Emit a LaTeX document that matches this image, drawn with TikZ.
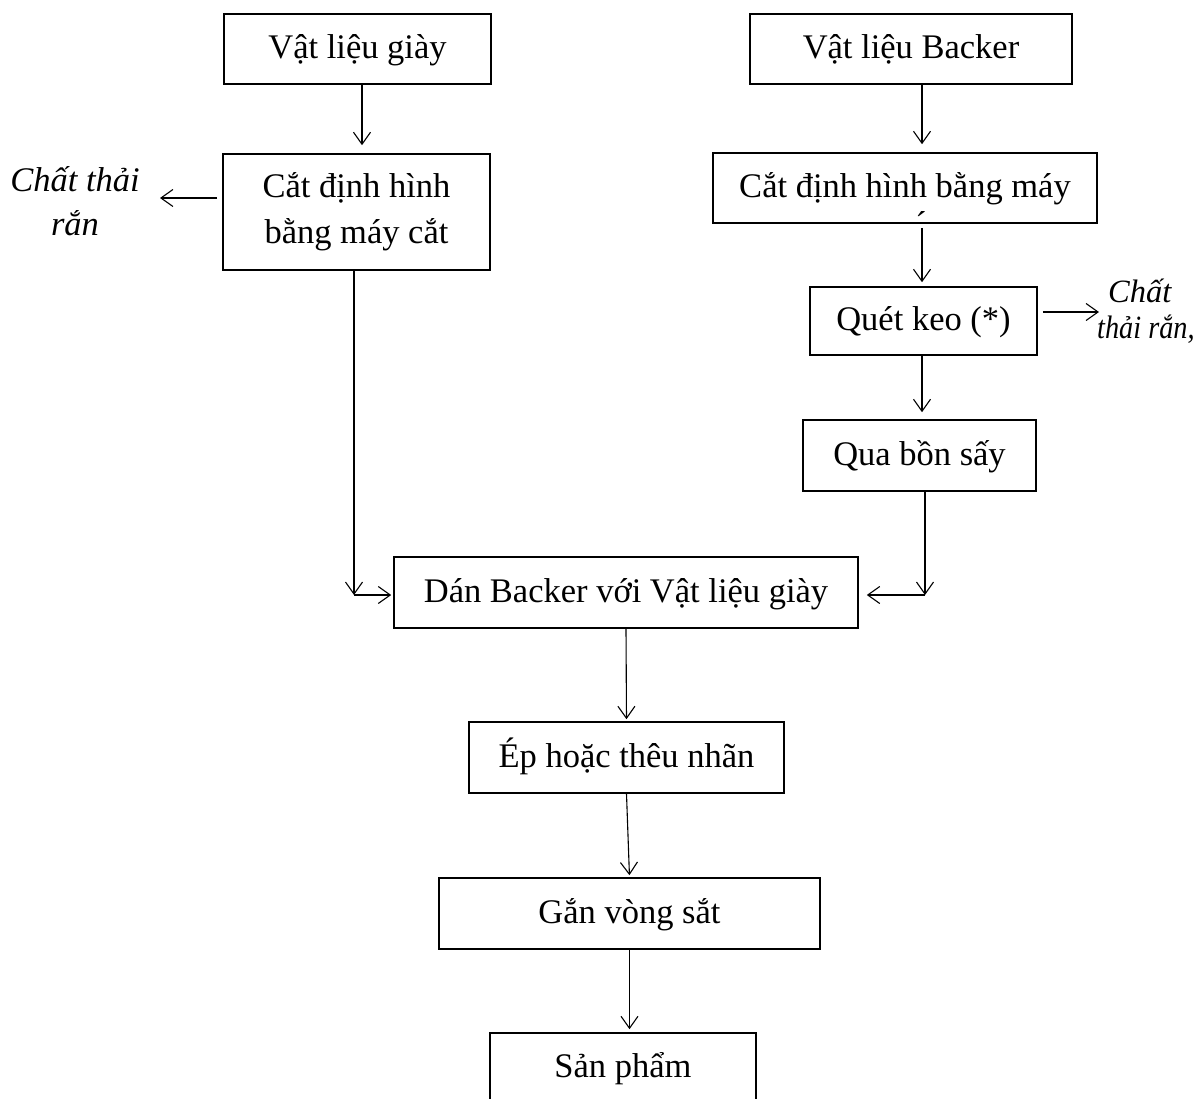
\documentclass[tikz,border=0pt]{standalone}
\usepackage{fontspec}
\setmainfont{Liberation Serif}
\usetikzlibrary{arrows.meta,calc}
\begin{document}
\begin{tikzpicture}[x=1pt,y=-1pt,
  box/.style={draw, line width=1.6pt, inner sep=0pt,
    font=\fontsize{34.5}{46}\selectfont, text height=23pt, text depth=4pt},
  boxtwo/.style={draw, line width=1.6pt, inner sep=0pt, align=center,
    font=\fontsize{34.5}{46}\selectfont},
  flow/.style={line width=1.1pt,
    -{Straight Barb[length=12pt,width=17pt,line width=1.1pt]}},
  note/.style={font=\itshape\fontsize{34.5}{44}\selectfont, align=center, inner sep=0pt}]
\useasboundingbox (0,0) rectangle (1197,1099);

% process steps
\node[box, minimum width=267pt, minimum height=70pt] (b1) at (357.5,49) {Vật liệu giày};
\node[box, minimum width=322pt, minimum height=70pt] (b2) at (911,49) {Vật liệu Backer};
\node[boxtwo, minimum width=267pt, minimum height=116pt] (b3) at (356.5,212) {Cắt định hình\\bằng máy cắt};
\node[box, minimum width=384pt, minimum height=70pt] (b4) at (905,188) {Cắt định hình bằng máy};
\node[inner sep=0pt, anchor=base, font=\fontsize{34.5}{40}\selectfont] (acc) at (921,236) {´};
\node[box, minimum width=227pt, minimum height=68pt] (b5) at (923.5,321) {Quét keo (*)};
\node[box, minimum width=233pt, minimum height=71pt] (b6) at (919.5,455.5) {Qua bồn sấy};
\node[box, minimum width=464pt, minimum height=71pt] (b7) at (626,592.5) {Dán Backer với Vật liệu giày};
\node[box, minimum width=315pt, minimum height=71pt] (b8) at (626.5,757.5) {Ép hoặc thêu nhãn};
\node[box, minimum width=381pt, minimum height=71pt] (b9) at (629.5,913.5) {Gắn vòng sắt};
\node[box, minimum width=266pt, minimum height=80pt] (b10) at (623,1073) {\raisebox{5pt}{Sản phẩm}};

% waste outputs
\node[note] (w1) at (75,201) {Chất thải\\rắn};
\node[note, align=left, anchor=west, font=\itshape\fontsize{32.5}{36}\selectfont]
  (w2) at (1097,311) {\hspace{11pt}Chất\\\scalebox{0.87}[1]{thải rắn,}};

% junctions
\coordinate (lw) at (160,198);
\coordinate (rw) at (1099,312);
\coordinate (jl) at (354,595);
\coordinate (jr) at (925,595);
\coordinate (cl) at (362,0);
\coordinate (cr) at (922,0);

% left branch
\draw[flow, shorten >=8pt] (b1.south -| cl) -- (b3.north -| cl);
\draw[flow, shorten <=5pt] (b3.west |- lw) -- (lw);
\draw[flow] (b3.south -| jl) -- (jl);
\draw[flow, shorten >=2pt] (jl) -- (b7.west |- jl);

% right branch
\draw[flow, shorten >=8pt] (b2.south -| cr) -- (b4.north -| cr);
\draw[flow, shorten <=4pt, shorten >=4pt] (b4.south -| cr) -- (b5.north -| cr);
\draw[flow, shorten <=5pt] (b5.east |- rw) -- (rw);
\draw[flow, shorten >=7pt] (b5.south -| cr) -- (b6.north -| cr);
\draw[flow] (b6.south -| jr) -- (jr);
\draw[flow, shorten >=8pt] (jr) -- (b7.east |- jr);

% main line
\draw[flow, shorten >=2pt] (b7.south) -- (b8.north);
\draw[flow, shorten >=2pt] (b8.south) -- (b9.north);
\draw[flow, shorten >=3pt] (b9.south) -- (b9.south |- b10.north);
\end{tikzpicture}
\end{document}
